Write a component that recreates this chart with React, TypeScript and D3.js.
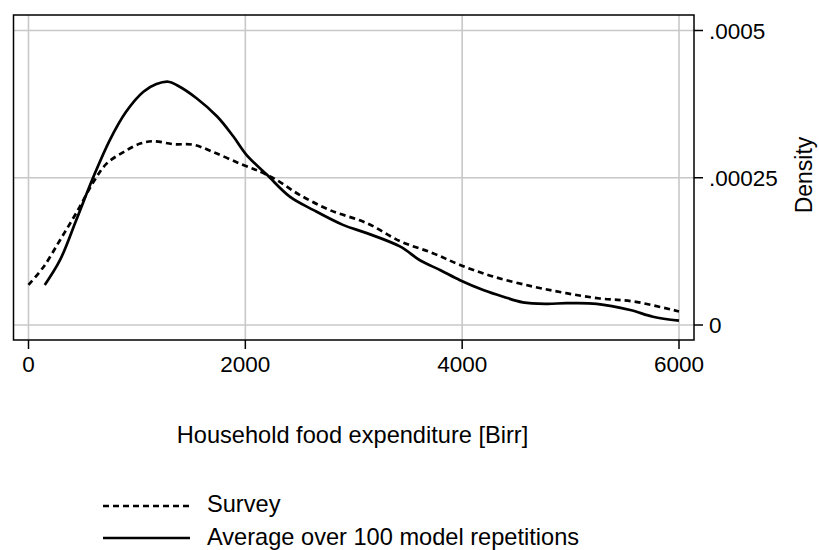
import * as d3 from "d3";

const surveyX = [0, 140, 290, 440, 600, 720, 880, 1030, 1150, 1340, 1520, 1700, 1950, 2140, 2290, 2500, 2780, 3120, 3430, 3730, 3980, 4290, 4660, 4960, 5270, 5580, 6000];
const surveyD = [6.8, 9.9, 14.4, 19.0, 24.3, 27.4, 29.4, 30.8, 31.2, 30.7, 30.6, 29.4, 27.4, 26.0, 24.6, 22.1, 19.5, 17.3, 14.2, 12.2, 10.2, 8.2, 6.5, 5.4, 4.5, 4.0, 2.3];

const modelX = [150, 290, 440, 600, 750, 900, 1060, 1180, 1290, 1370, 1550, 1740, 1890, 2010, 2200, 2410, 2630, 2900, 3120, 3430, 3610, 3800, 3980, 4200, 4380, 4560, 4780, 4960, 5240, 5550, 5760, 6000];
const modelD = [6.8, 11.0, 17.8, 25.2, 31.4, 36.2, 39.6, 40.9, 41.3, 40.7, 38.5, 35.4, 32.0, 28.9, 25.5, 21.8, 19.5, 17.0, 15.6, 13.3, 11.0, 9.3, 7.6, 5.9, 4.8, 3.85, 3.6, 3.7, 3.6, 2.55, 1.4, 0.73];

const xTicks = [0, 2000, 4000, 6000];
const yTicks = [0, 0.00025, 0.0005];
const yTickLabels = ["0", ".00025", ".0005"];

const W = 819;
const H = 550;
const FONT = "'Liberation Sans', Arial, Helvetica, sans-serif";

export default function App() {
  // scales fitted to the frame (13.5..694, 15..340)
  const x = d3.scaleLinear().domain([0, 6000]).range([28.5, 679]);
  const y = d3.scaleLinear().domain([0, 0.0005]).range([325, 30.5]);
  const frame = { left: 13.5, right: 694, top: 15, bottom: 340 };

  const line = d3
    .line<[number, number]>()
    .x((d) => x(d[0]))
    .y((d) => y(d[1] * 1e-5))
    .curve(d3.curveCatmullRom.alpha(0.5));

  const survey = surveyX.map((v, i) => [v, surveyD[i]] as [number, number]);
  const model = modelX.map((v, i) => [v, modelD[i]] as [number, number]);

  return (
    <svg
      width={W}
      height={H}
      style={{ position: "absolute", left: 0, top: 0, background: "#fff" }}
      fontFamily={FONT}
    >
      <rect width={W} height={H} fill="#fff" />
      {/* grid */}
      {xTicks.map((t) => (
        <line key={"gx" + t} x1={x(t)} x2={x(t)} y1={frame.top} y2={frame.bottom} stroke="#c8c8c8" strokeWidth={1.6} />
      ))}
      {yTicks.map((t) => (
        <line key={"gy" + t} x1={frame.left} x2={frame.right} y1={y(t)} y2={y(t)} stroke="#c8c8c8" strokeWidth={1.6} />
      ))}

      {/* curves */}
      <path d={line(survey) || ""} fill="none" stroke="#000" strokeWidth={2.7} strokeDasharray="6,4" />
      <path d={line(model) || ""} fill="none" stroke="#000" strokeWidth={2.7} strokeLinejoin="round" />

      {/* frame */}
      <rect
        x={frame.left}
        y={frame.top}
        width={frame.right - frame.left}
        height={frame.bottom - frame.top}
        fill="none"
        stroke="#000"
        strokeWidth={1.5}
      />

      {/* x axis */}
      {xTicks.map((t) => (
        <g key={"xt" + t}>
          <line x1={x(t)} x2={x(t)} y1={frame.bottom} y2={frame.bottom + 9} stroke="#000" strokeWidth={1.5} />
          <text x={x(t)} y={372} textAnchor="middle" fontSize={22.5}>
            {d3.format("d")(t)}
          </text>
        </g>
      ))}

      {/* right y axis */}
      {yTicks.map((t, i) => (
        <g key={"yt" + t}>
          <line x1={frame.right} x2={frame.right + 9} y1={y(t)} y2={y(t)} stroke="#000" strokeWidth={1.5} />
          <text x={709} y={y(t) + 8} fontSize={22.5}>
            {yTickLabels[i]}
          </text>
        </g>
      ))}

      <text transform="translate(812,175) rotate(-90)" textAnchor="middle" fontSize={23}>
        Density
      </text>

      <text x={352.5} y={443} textAnchor="middle" fontSize={23.6}>
        Household food expenditure [Birr]
      </text>

      {/* legend */}
      <line x1={103} x2={190} y1={506} y2={506} stroke="#000" strokeWidth={2.7} strokeDasharray="6,4" />
      <text x={207} y={512} fontSize={23.6}>
        Survey
      </text>
      <line x1={103} x2={190} y1={538} y2={538} stroke="#000" strokeWidth={2.7} />
      <text x={207} y={545} fontSize={23.6}>
        Average over 100 model repetitions
      </text>
    </svg>
  );
}
